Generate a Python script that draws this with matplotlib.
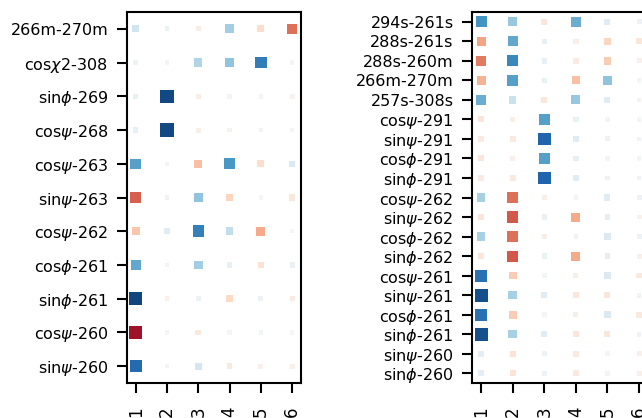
import numpy as np
import matplotlib
matplotlib.use('Agg')
import matplotlib.pyplot as plt

columns = [1, 2, 3, 4, 5, 6]

left_labels = ['266m-270m', r'cos$\chi$2-308', r'sin$\phi$-269', r'cos$\psi$-268',
               r'cos$\psi$-263', r'sin$\psi$-263', r'cos$\psi$-262', r'cos$\phi$-261',
               r'sin$\phi$-261', r'cos$\psi$-260', r'sin$\psi$-260']
left_values = [
    [-0.20, -0.05, 0.07, -0.35, 0.18, 0.55],
    [-0.05, -0.03, -0.30, -0.40, -0.70, -0.03],
    [-0.08, -0.90, 0.06, 0.03, -0.03, 0.04],
    [-0.08, -0.90, 0.06, 0.04, -0.04, 0.03],
    [-0.55, -0.03, 0.30, -0.58, 0.18, -0.15],
    [0.60, -0.04, -0.40, 0.22, -0.02, 0.12],
    [0.28, -0.12, -0.68, -0.25, 0.38, -0.02],
    [-0.52, -0.04, -0.35, -0.08, 0.15, -0.07],
    [-0.92, 0.05, -0.05, 0.20, -0.06, 0.08],
    [0.85, -0.03, 0.10, -0.02, -0.03, -0.02],
    [-0.78, 0.03, -0.18, 0.10, 0.05, 0.06],
]

right_labels = ['294s-261s', '288s-261s', '288s-260m', '266m-270m', '257s-308s',
                r'cos$\psi$-291', r'sin$\psi$-291', r'cos$\phi$-291', r'sin$\phi$-291',
                r'cos$\psi$-262', r'sin$\psi$-262', r'cos$\phi$-262', r'sin$\phi$-262',
                r'cos$\psi$-261', r'sin$\psi$-261', r'cos$\phi$-261', r'sin$\phi$-261',
                r'sin$\psi$-260', r'sin$\phi$-260']
right_values = [
    [-0.60, -0.38, 0.12, -0.50, -0.12, -0.05],
    [0.40, -0.52, -0.08, 0.07, 0.22, 0.12],
    [0.52, -0.65, -0.08, 0.08, 0.25, 0.05],
    [0.35, -0.55, -0.08, 0.30, -0.40, -0.03],
    [-0.50, -0.22, 0.12, -0.38, -0.12, 0.04],
    [0.12, 0.06, -0.55, -0.08, -0.03, -0.03],
    [0.08, 0.10, -0.80, -0.12, -0.05, -0.04],
    [0.12, 0.05, -0.55, -0.08, -0.03, -0.03],
    [0.08, 0.10, -0.80, -0.12, -0.05, -0.04],
    [-0.33, 0.55, 0.06, -0.03, -0.12, -0.05],
    [0.12, 0.62, -0.07, 0.38, -0.10, 0.05],
    [-0.33, 0.55, 0.07, -0.04, -0.15, -0.06],
    [0.12, 0.62, -0.07, 0.38, -0.10, 0.05],
    [-0.75, 0.25, -0.03, 0.06, -0.15, 0.10],
    [-0.88, -0.33, -0.12, 0.12, 0.12, -0.04],
    [-0.75, 0.25, -0.03, 0.06, -0.15, 0.10],
    [-0.88, -0.33, -0.12, 0.12, 0.12, -0.04],
    [-0.10, 0.14, -0.06, 0.10, 0.03, 0.05],
    [-0.10, 0.14, -0.06, 0.10, 0.03, 0.05],
]


def dot_grid(ax, labels, values):
    vals = np.array(values)
    n = len(labels)
    xx, yy = np.meshgrid(columns, np.arange(n)[::-1])
    # square size and colour both follow the value
    ax.scatter(xx.ravel(), yy.ravel(), s=8 + 90 * np.abs(vals.ravel()),
               c=vals.ravel(), cmap='RdBu_r', vmin=-1, vmax=1,
               marker='s', linewidths=0)
    ax.set_xlim(0.72, 6.28)
    ax.set_ylim(-0.5, n - 0.5)
    ax.set_xticks(columns)
    ax.set_xticklabels([str(c) for c in columns], rotation=90)
    ax.set_yticks(np.arange(n)[::-1])
    ax.set_yticklabels(labels)
    ax.tick_params(length=7.5, width=1.5, labelsize=11.5, colors='black')
    ax.tick_params(axis='y', pad=6)
    ax.tick_params(axis='x', pad=9.5, labelsize=12)
    for sp in ax.spines.values():
        sp.set_linewidth(1.5)


fig = plt.figure(figsize=(6.42, 4.18), dpi=100)
ax1 = fig.add_axes([0.1978, 0.0837, 0.271, 0.8876])
ax2 = fig.add_axes([0.7357, 0.0837, 0.2735, 0.8876])
dot_grid(ax1, left_labels, left_values)
dot_grid(ax2, right_labels, right_values)

fig.savefig('out.png', dpi=100)
